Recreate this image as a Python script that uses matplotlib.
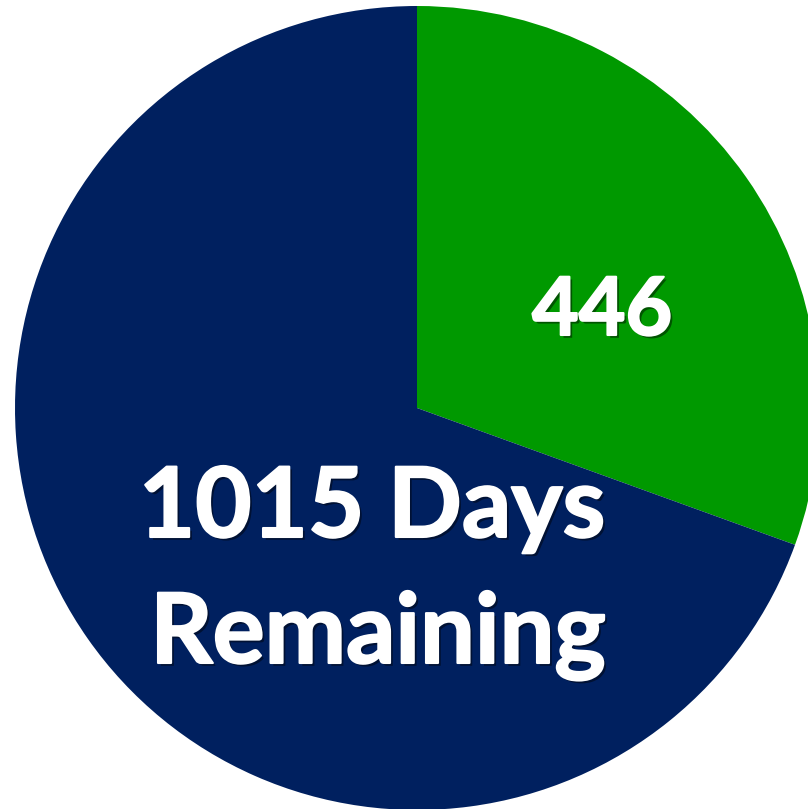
import matplotlib.pyplot as plt
import matplotlib.patheffects as pe

# days elapsed vs days remaining
labels = ["446", "1015 Days\nRemaining"]
days = [446, 1015]
colors = ["#009900", "#00205F"]

W, H = 808, 809

fig = plt.figure(figsize=(W / 100, H / 100), dpi=100)
ax = fig.add_axes([0, 0, 1, 1])
ax.pie(days, colors=colors, startangle=90, counterclock=False,
       center=(417, H - 408), radius=402,
       wedgeprops=dict(linewidth=0))
ax.set_xlim(0, W)
ax.set_ylim(0, H)
ax.set_aspect("equal")
ax.axis("off")

shadow = [pe.withSimplePatchShadow(offset=(2, -2), shadow_rgbFace="black", alpha=0.45),
          pe.Stroke(linewidth=1.5, foreground="white"),
          pe.Normal()]
font = dict(family=["Lato", "DejaVu Sans"], weight="bold", color="white")

ax.text(602, H - 335, labels[0], ha="center", va="baseline",
        fontsize=58, path_effects=shadow, **font)
line1, line2 = labels[1].split("\n")
ax.text(372, H - 537, line1, ha="center", va="baseline",
        fontsize=70, path_effects=shadow, **font)
ax.text(378, H - 663, line2, ha="center", va="baseline",
        fontsize=70, path_effects=shadow, **font)

fig.savefig("out.png", dpi=100, facecolor="white")
